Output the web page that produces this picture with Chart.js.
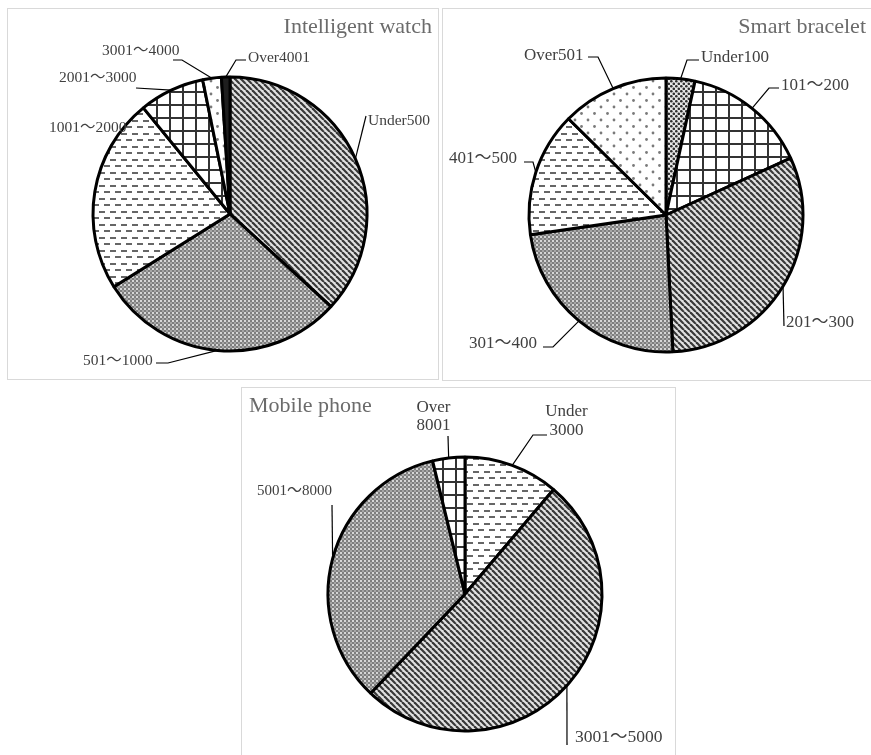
<!DOCTYPE html>
<html>
<head>
<meta charset="utf-8">
<script src="https://cdn.jsdelivr.net/npm/chart.js@4"></script>
<style>
  html, body { margin: 0; padding: 0; background: #fff; }
  body { width: 871px; height: 755px; position: relative; overflow: hidden; }
  .panel { position: absolute; box-sizing: border-box; border: 1px solid #d9d9d9; background: #fff; }
  canvas { position: absolute; left: 0; top: 0; }
</style>
</head>
<body>
<div class="panel" style="left:7px;top:8px;width:432px;height:372px"></div>
<div class="panel" style="left:442px;top:8px;width:440px;height:373px"></div>
<div class="panel" style="left:241px;top:387px;width:435px;height:380px"></div>
<canvas id="watch" width="871" height="755"></canvas>
<canvas id="bracelet" width="871" height="755"></canvas>
<canvas id="phone" width="871" height="755"></canvas>
<script>
// Price bands and their share (%) for each product
const watchCategories = ['Under500', '501～1000', '1001～2000', '2001～3000', '3001～4000', 'Over4001'];
const watchShares = [36.8, 29.3, 23.0, 7.7, 2.2, 1.0];

const braceletCategories = ['Under100', '101～200', '201～300', '301～400', '401～500', 'Over501'];
const braceletShares = [3.4, 14.8, 31.0, 23.5, 14.7, 12.6];

const phoneCategories = ['Under 3000', '3001～5000', '5001～8000', 'Over 8001'];
const phoneShares = [11.2, 50.9, 34.1, 3.8];

const SERIF = '"Liberation Serif", "Times New Roman", "Noto Sans CJK SC", serif';
const W = 871, H = 755, RADIUS = 137;

// ---- fill patterns ----
const scratch = document.createElement('canvas').getContext('2d');
function makePattern(w, h, paint) {
  const c = document.createElement('canvas');
  c.width = w; c.height = h;
  const g = c.getContext('2d');
  paint(g, w, h);
  return scratch.createPattern(c, 'repeat');
}
const stripes = makePattern(6, 6, (g, w, h) => {
  g.fillStyle = '#e2e2e2'; g.fillRect(0, 0, w, h);
  g.strokeStyle = '#383838'; g.lineWidth = 2.2;
  for (const o of [-6, 0, 6]) { g.beginPath(); g.moveTo(o, 0); g.lineTo(o + 6, 6); g.stroke(); }
});
const checker = makePattern(4, 4, (g, w, h) => {
  g.fillStyle = '#7e7e7e'; g.fillRect(0, 0, w, h);
  g.fillStyle = '#d6d6d6'; g.fillRect(0, 0, 2, 2);
  g.fillStyle = '#a6a6a6'; g.fillRect(2, 2, 2, 2);
});
const dashes = makePattern(11, 13, (g, w, h) => {
  g.fillStyle = '#fff'; g.fillRect(0, 0, w, h);
  g.fillStyle = '#666';
  g.fillRect(0, 3, 6, 2);
  g.fillRect(5, 9, 6, 2);
});
const grid = makePattern(13, 13, (g, w, h) => {
  g.fillStyle = '#fff'; g.fillRect(0, 0, w, h);
  g.fillStyle = '#333';
  g.fillRect(0, 0, w, 2);
  g.fillRect(0, 0, 2, h);
});
const sparseDots = makePattern(13, 13, (g, w, h) => {
  g.fillStyle = '#fff'; g.fillRect(0, 0, w, h);
  g.fillStyle = '#7a7a7a';
  g.beginPath(); g.arc(3, 3, 1.4, 0, Math.PI * 2); g.fill();
  g.beginPath(); g.arc(9.5, 9.5, 1.4, 0, Math.PI * 2); g.fill();
});
const denseDots = makePattern(5, 5, (g, w, h) => {
  g.fillStyle = '#e6e6e6'; g.fillRect(0, 0, w, h);
  g.fillStyle = '#2e2e2e';
  g.beginPath(); g.arc(1.3, 1.3, 1.3, 0, Math.PI * 2); g.fill();
  g.beginPath(); g.arc(3.8, 3.8, 1.3, 0, Math.PI * 2); g.fill();
});
const solidDark = '#1e1e1e';

// ---- callout layout: text anchors (alphabetic baseline) and leader bends ----
const watchCallouts = [
  { x: 368, y: 125, size: 15.5, leader: [[366, 116]] },
  { x: 83, y: 365, size: 15.5, leader: [[156, 363], [168, 363]] },
  { x: 49, y: 131.7, size: 15.5, leader: null },
  { x: 59, y: 81.7, size: 15.5, leader: [[136, 88]] },
  { x: 102, y: 55, size: 15.5, leader: [[173, 60], [182, 60]] },
  { x: 248, y: 61.7, size: 15.5, leader: [[246, 60], [236, 60]] }
];
const braceletCallouts = [
  { x: 701, y: 61.7, size: 17, leader: [[699, 60], [687, 60]] },
  { x: 781, y: 90, size: 17, leader: [[779, 88], [769, 88]] },
  { x: 786, y: 326.7, size: 17, leader: [[784, 326]] },
  { x: 469, y: 348.3, size: 17, leader: [[543, 347], [553, 347]] },
  { x: 449, y: 163.3, size: 17, leader: [[524, 162], [533, 162]] },
  { x: 524, y: 60, size: 17, leader: [[588, 57], [598, 57]] }
];
const phoneCallouts = [
  { x: 566.5, y: [416, 435], align: 'center', size: 17, leader: [[547, 435], [533, 435]] },
  { x: 575, y: 741.7, size: 17.5, leader: [[567, 745]] },
  { x: 257, y: 495, size: 15, leader: [[332, 505]] },
  { x: 433.5, y: [411.7, 430], align: 'center', size: 17, leader: [[448, 436]] }
];

function calloutPlugin(title, callouts) {
  return {
    id: 'callouts',
    afterDatasetsDraw(chart) {
      const ctx = chart.ctx;
      const meta = chart.getDatasetMeta(0);
      const labels = chart.data.labels;
      ctx.save();
      ctx.textBaseline = 'alphabetic';
      // panel title
      ctx.font = '22px ' + SERIF;
      ctx.fillStyle = '#6b6b6b';
      ctx.textAlign = title.align;
      ctx.fillText(title.text, title.x, title.y);
      // category callouts
      callouts.forEach((c, i) => {
        const arc = meta.data[i];
        const p = arc.getProps(['x', 'y', 'startAngle', 'endAngle', 'outerRadius'], true);
        const mid = (p.startAngle + p.endAngle) / 2;
        const ex = p.x + Math.cos(mid) * p.outerRadius;
        const ey = p.y + Math.sin(mid) * p.outerRadius;
        if (c.leader) {
          ctx.strokeStyle = '#000';
          ctx.lineWidth = 1.2;
          ctx.beginPath();
          ctx.moveTo(c.leader[0][0], c.leader[0][1]);
          for (let k = 1; k < c.leader.length; k++) ctx.lineTo(c.leader[k][0], c.leader[k][1]);
          ctx.lineTo(ex, ey);
          ctx.stroke();
        }
        ctx.font = c.size + 'px ' + SERIF;
        ctx.fillStyle = '#404040';
        ctx.textAlign = c.align || 'left';
        if (Array.isArray(c.y)) {
          const parts = labels[i].split(' ');
          parts.forEach((t, k) => ctx.fillText(t, c.x, c.y[k]));
        } else {
          ctx.fillText(labels[i], c.x, c.y);
        }
      });
      ctx.restore();
    }
  };
}

function pieChart(id, categories, shares, fills, cx, cy, title, callouts) {
  return new Chart(document.getElementById(id), {
    type: 'pie',
    data: {
      labels: categories,
      datasets: [{
        data: shares,
        backgroundColor: fills,
        borderColor: '#000',
        borderWidth: 3,
        radius: RADIUS
      }]
    },
    options: {
      responsive: false,
      devicePixelRatio: 1,
      animation: false,
      events: [],
      layout: { padding: { left: cx - 140, right: W - cx - 140, top: cy - 140, bottom: H - cy - 140 } },
      plugins: { legend: { display: false }, tooltip: { enabled: false }, title: { display: false } }
    },
    plugins: [calloutPlugin(title, callouts)]
  });
}

pieChart('watch', watchCategories, watchShares,
  [stripes, checker, dashes, grid, sparseDots, solidDark],
  230, 214, { text: 'Intelligent watch', align: 'right', x: 432, y: 33 }, watchCallouts);

pieChart('bracelet', braceletCategories, braceletShares,
  [denseDots, grid, stripes, checker, dashes, sparseDots],
  666, 215, { text: 'Smart bracelet', align: 'right', x: 866, y: 33.3 }, braceletCallouts);

pieChart('phone', phoneCategories, phoneShares,
  [dashes, stripes, checker, grid],
  465, 594, { text: 'Mobile phone', align: 'left', x: 249, y: 411.7 }, phoneCallouts);
</script>
</body>
</html>
